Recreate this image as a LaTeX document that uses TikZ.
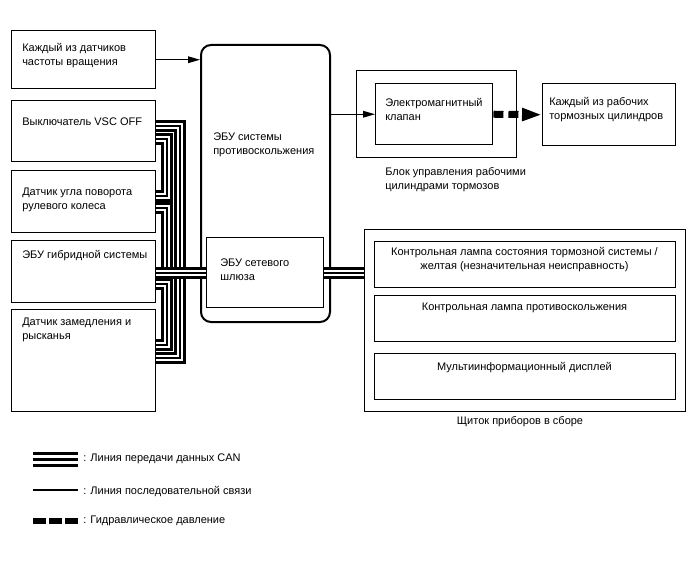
\documentclass[tikz,border=0pt]{standalone}
\usepackage{fontspec}
\setmainfont{Liberation Sans}
\usetikzlibrary{arrows.meta,calc}

\begin{document}
\begin{tikzpicture}[
  x=0.75pt, y=-0.75pt,
  font=\fontsize{8.25}{10.5}\selectfont,
  box/.style={draw, line width=1.1pt, anchor=north west, inner sep=0pt, minimum width=108pt},
  txt/.style={anchor=base west, inner sep=0pt, align=left},
  ctxt/.style={anchor=base, inner sep=0pt, align=center},
  arr/.style={-{Triangle[length=9pt, width=5pt]}, line width=0.8pt},
  hyd/.style={-{Triangle[length=15pt, width=9pt]}, line width=5.25pt, dash pattern=on 7.5pt off 3.75pt},
  bus/.style={line width=9pt, draw=black,
    postaction={draw=white, line width=4.5pt},
    postaction={draw=black, line width=1.5pt}},
  canleg/.style={line width=11.25pt, draw=black,
    postaction={draw=white, line width=6.75pt},
    postaction={draw=black, line width=2.25pt}}
]
\useasboundingbox (0,0) rectangle (688,560);
\node[box, minimum height=43.5pt] (box-wss) at (11,30) {};
\node[txt] (txt-wss) at (22,65) {Каждый из датчиков\\частоты вращения};
\node[box, minimum height=45.75pt] (box-vsc) at (11,100) {};
\node[txt] (txt-vsc) at (22,125) {Выключатель VSC OFF};
\node[box, minimum height=46.5pt] (box-str) at (11,170) {};
\node[txt] (txt-str) at (22,209) {Датчик угла поворота\\рулевого колеса};
\node[box, minimum height=46.5pt] (box-hyb) at (11,240) {};
\node[txt] (txt-hyb) at (22,258) {ЭБУ гибридной системы};
\node[box, minimum height=76.5pt] (box-ysr) at (11,309) {};
\node[txt] (txt-ysr) at (22,339) {Датчик замедления и\\рысканья};
\node[box, minimum width=96.75pt, minimum height=207.75pt, rounded corners=7.5pt, line width=1.5pt] (box-ecu) at (200,44) {};
\node[txt] (txt-ecu) at (213,154) {ЭБУ системы\\противоскольжения};
\node[box, minimum width=87.75pt, minimum height=52.5pt] (box-gw) at (206,237) {};
\node[txt] (txt-gw) at (220,280) {ЭБУ сетевого\\шлюза};
\node[box, minimum width=120pt, minimum height=65.25pt] (box-act) at (356,70) {};
\node[box, minimum width=87.75pt, minimum height=45.75pt] (box-sol) at (375,83) {};
\node[txt] (txt-sol) at (385,120) {Электромагнитный\\клапан};
\node[txt] (cap-act) at (385,189) {Блок управления рабочими\\цилиндрами тормозов};
\node[box, minimum width=99.75pt, minimum height=46.5pt] (box-whl) at (542,83) {};
\node[txt] (txt-whl) at (549,119) {Каждый из рабочих\\тормозных цилиндров};
\node[box, minimum width=240.75pt, minimum height=136.5pt] (box-meter) at (364,229) {};
\node[box, minimum width=225.75pt, minimum height=34.5pt] (box-lamp1) at (374,241) {};
\node[ctxt] (txt-lamp1) at (524.5,269) {Контрольная лампа состояния тормозной системы /\\желтая (незначительная неисправность)};
\node[box, minimum width=225.75pt, minimum height=34.5pt] (box-lamp2) at (374,295) {};
\node[ctxt] (txt-lamp2) at (524.5,310) {Контрольная лампа противоскольжения};
\node[box, minimum width=225.75pt, minimum height=34.5pt] (box-mfd) at (374,353) {};
\node[ctxt] (txt-mfd) at (524.5,370) {Мультиинформационный дисплей};
\node[ctxt] (cap-meter) at (520,424) {Щиток приборов в сборе};
\coordinate (j-vsc-a) at (180,126);
\coordinate (j-vsc-b) at (167,139);
\coordinate (j-str-a) at (167,196);
\coordinate (j-str-b) at (167,208);
\coordinate (j-hyb-b) at (167,284);
\coordinate (j-ysr-a) at (167,345);
\coordinate (j-ysr-b) at (180,358);
\draw[bus] (box-vsc.east |- j-vsc-b) -- (j-vsc-b) -- (j-str-a) -- (box-str.east |- j-str-a);
\draw[bus] (box-str.east |- j-str-b) -- (j-str-b) -- (j-str-b |- box-gw.west);
\draw[bus] (box-hyb.east |- j-hyb-b) -- (j-hyb-b) -- (j-ysr-a) -- (box-ysr.east |- j-ysr-a);
\draw[bus] (j-vsc-a |- box-gw.west) -- (j-ysr-b) -- (box-ysr.east |- j-ysr-b);
\draw[bus] (box-vsc.east |- j-vsc-a) -- (j-vsc-a) -- (j-vsc-a |- box-gw.west) -- (box-gw.west);
\draw[bus] (box-hyb.east |- box-gw.west) -- (box-gw.west);
\draw[bus] (box-gw.east) -- (box-gw.east -| box-meter.west);
\draw[arr] (box-wss.east) -- (box-wss.east -| box-ecu.west);
\draw[arr] (box-ecu.east |- box-sol.west) -- (box-sol.west);
\draw[hyd] (box-sol.east) -- (box-whl.west);
\coordinate (leg-can-a) at (33,459);
\coordinate (leg-can-b) at (78,459);
\draw[canleg] (leg-can-a) -- (leg-can-b);
\node[txt] (leg-can) at (83,461) {: Линия передачи данных CAN};
\coordinate (leg-ser-a) at (33,490);
\coordinate (leg-ser-b) at (78,490);
\draw[line width=0.8pt] (leg-ser-a) -- (leg-ser-b);
\node[txt] (leg-ser) at (83,494) {: Линия последовательной связи};
\coordinate (leg-hyd-a) at (33,520.5);
\coordinate (leg-hyd-b) at (78,520.5);
\draw[line width=4.5pt, dash pattern=on 9.75pt off 2.25pt] (leg-hyd-a) -- (leg-hyd-b);
\node[txt] (leg-hyd) at (83,523) {: Гидравлическое давление};
\end{tikzpicture}
\end{document}
